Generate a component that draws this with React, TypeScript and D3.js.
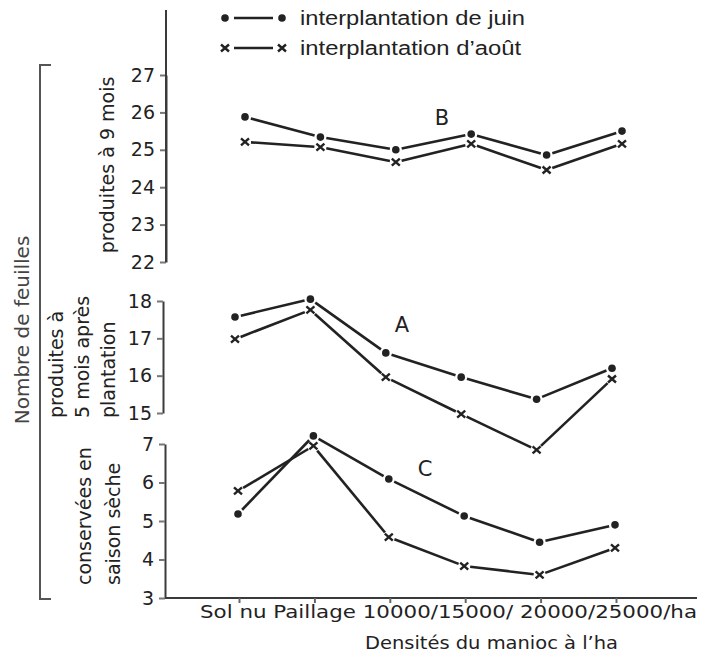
import React, { useEffect, useRef } from 'react'
import * as d3 from 'd3'

// categories (x axis)
const categories = ['Sol nu', 'Paillage', '10000/', '15000/', '20000/', '25000/ha']
const categoryJoin = [' ', ' ', '', ' ', '', '']

// B : feuilles produites à 9 mois
const bJuin = [25.88, 25.34, 25.0, 25.42, 24.86, 25.5]
const bAout = [25.21, 25.07, 24.67, 25.16, 24.46, 25.16]
const bTicks = [22, 23, 24, 25, 26, 27]

// A : produites à 5 mois après plantation
const aJuin = [17.57, 18.05, 16.61, 15.96, 15.37, 16.2]
const aAout = [16.98, 17.76, 15.96, 14.97, 14.01, 15.91]
const aTicks = [15, 16, 17, 18]

// C : conservées en saison sèche
const cJuin = [5.18, 7.21, 6.09, 5.13, 4.45, 4.9]
const cAout = [5.78, 6.95, 4.58, 3.83, 3.6, 4.3]
const cTicks = [3, 4, 5, 6, 7]

const legendLabels = ['interplantation de juin', 'interplantation d\u2019août']

const INK = '#222'
const AXIS = '#3a3a3a'
const FONT = 'DejaVu Sans, sans-serif'

export default function App() {
  const ref = useRef<SVGSVGElement>(null)

  useEffect(() => {
    const svg = d3.select(ref.current)
    svg.selectAll('*').remove()

    const x = d3.scalePoint<string>().domain(categories).range([239, 616])

    const panels = [
      { name: 'B', juin: bJuin, aout: bAout, ticks: bTicks, domain: [22, 27], range: [262, 75], axisX: 166, dx: 6, label: [442, 118] },
      { name: 'A', juin: aJuin, aout: aAout, ticks: aTicks, domain: [15, 18], range: [413, 301], axisX: 163, dx: -4, label: [402, 325] },
      { name: 'C', juin: cJuin, aout: cAout, ticks: cTicks, domain: [3, 7], range: [598, 444], axisX: 165, dx: -1, label: [425, 469] },
    ]

    const gap = 6

    const drawSeries = (g: any, pts: [number, number][], kind: 'dot' | 'cross') => {
      d3.pairs(pts).forEach(([p, q]) => {
        const len = Math.hypot(q[0] - p[0], q[1] - p[1])
        const ux = (q[0] - p[0]) / len
        const uy = (q[1] - p[1]) / len
        g.append('line')
          .attr('x1', p[0] + ux * gap).attr('y1', p[1] + uy * gap)
          .attr('x2', q[0] - ux * gap).attr('y2', q[1] - uy * gap)
          .attr('stroke', INK).attr('stroke-width', 2.6)
      })
      pts.forEach(([px, py]) => {
        if (kind === 'dot') {
          g.append('circle').attr('cx', px).attr('cy', py).attr('r', 3.8).attr('fill', INK)
        } else {
          g.append('path')
            .attr('d', `M${px - 4},${py - 3.5}L${px + 4},${py + 3.5}M${px - 4},${py + 3.5}L${px + 4},${py - 3.5}`)
            .attr('stroke', INK).attr('stroke-width', 2.4)
        }
      })
    }

    panels.forEach(p => {
      const y = d3.scaleLinear().domain(p.domain).range(p.range)
      const axis = d3.axisLeft(y).tickValues(p.ticks).tickSize(6).tickSizeOuter(0).tickPadding(5).tickFormat(d3.format('d'))
      const ag = svg.append('g').attr('transform', `translate(${p.axisX},0)`).call(axis)
      ag.select('.domain').attr('stroke', AXIS).attr('stroke-width', 2)
      ag.selectAll('.tick line').attr('stroke', '#777').attr('stroke-width', 2)
      ag.selectAll('.tick text').attr('fill', INK).attr('font-size', 19).attr('font-family', FONT)

      if (p.name === 'B') {
        svg.append('line')
          .attr('x1', p.axisX).attr('x2', p.axisX)
          .attr('y1', 10).attr('y2', y(22))
          .attr('stroke', AXIS).attr('stroke-width', 2)
      }

      const g = svg.append('g').attr('transform', `translate(${p.dx},0)`)
      const ptsJ = p.juin.map((v, i) => [x(categories[i])!, y(v)] as [number, number])
      const ptsA = p.aout.map((v, i) => [x(categories[i])!, y(v)] as [number, number])
      drawSeries(g, ptsA, 'cross')
      drawSeries(g, ptsJ, 'dot')

      svg.append('text')
        .attr('x', p.label[0]).attr('y', p.label[1])
        .attr('text-anchor', 'middle').attr('dominant-baseline', 'central')
        .attr('font-size', 21).attr('font-family', FONT).attr('fill', INK)
        .text(p.name)
    })

    // x axis
    const yC = d3.scaleLinear().domain([3, 7]).range([598, 444])
    svg.append('line')
      .attr('x1', 165).attr('x2', 697).attr('y1', yC(3)).attr('y2', yC(3))
      .attr('stroke', AXIS).attr('stroke-width', 2.2)
    const xa = svg.append('g').attr('transform', `translate(0,${yC(3)})`)
      .call(d3.axisBottom(x).tickSize(5).tickFormat(() => ''))
    xa.select('.domain').remove()
    xa.selectAll('.tick line').attr('stroke', '#666').attr('stroke-width', 2)

    svg.append('text')
      .attr('x', 200).attr('y', 618)
      .attr('font-size', 18).attr('font-family', FONT).attr('fill', INK)
      .attr('textLength', 497).attr('lengthAdjust', 'spacingAndGlyphs')
      .text(categories.map((c, i) => c + categoryJoin[i]).join(''))

    svg.append('text')
      .attr('x', 365).attr('y', 649)
      .attr('font-size', 18).attr('font-family', FONT).attr('fill', INK)
      .attr('textLength', 253).attr('lengthAdjust', 'spacingAndGlyphs')
      .text('Densités du manioc à l\u2019ha')

    // left labels
    const vText = (tx: number, ty: number, s: string, anchor: string, size = 19, color = INK) => {
      svg.append('text')
        .attr('transform', `translate(${tx},${ty}) rotate(-90)`)
        .attr('text-anchor', anchor).attr('dominant-baseline', 'central')
        .attr('font-size', size).attr('font-family', FONT).attr('fill', color)
        .text(s)
    }
    vText(22, 330, 'Nombre de feuilles', 'middle', 20, '#444')
    svg.append('path')
      .attr('d', 'M51,65H40V599H51')
      .attr('fill', 'none').attr('stroke', '#555').attr('stroke-width', 2)
    vText(107, 165, 'produites à 9 mois', 'middle')
    vText(56, 418, 'produites à', 'start')
    vText(82, 418, '5 mois après', 'start')
    vText(108, 418, 'plantation', 'start')
    vText(84, 585, 'conservées en', 'start')
    vText(113, 585, 'saison sèche', 'start')

    // legend
    const lg = svg.append('g')
    const rows = [{ y: 18, kind: 'dot' }, { y: 48, kind: 'cross' }]
    rows.forEach((r, i) => {
      lg.append('line').attr('x1', 234).attr('x2', 273).attr('y1', r.y).attr('y2', r.y)
        .attr('stroke', INK).attr('stroke-width', 2.4)
      ;[225, 282].forEach(px => {
        if (r.kind === 'dot') {
          lg.append('circle').attr('cx', px).attr('cy', r.y).attr('r', 3.8).attr('fill', INK)
        } else {
          lg.append('path')
            .attr('d', `M${px - 4},${r.y - 3.5}L${px + 4},${r.y + 3.5}M${px - 4},${r.y + 3.5}L${px + 4},${r.y - 3.5}`)
            .attr('stroke', INK).attr('stroke-width', 2.4)
        }
      })
      lg.append('text')
        .attr('x', 300).attr('y', r.y + 7)
        .attr('font-size', 20).attr('font-family', 'Liberation Sans, Arial, sans-serif').attr('fill', INK)
        .attr('textLength', i === 0 ? 225 : 221).attr('lengthAdjust', 'spacingAndGlyphs')
        .text(legendLabels[i])
    })
  }, [])

  return (
    <svg ref={ref} width={712} height={659}
      style={{ position: 'absolute', left: 0, top: 0, background: '#fff' }} />
  )
}
